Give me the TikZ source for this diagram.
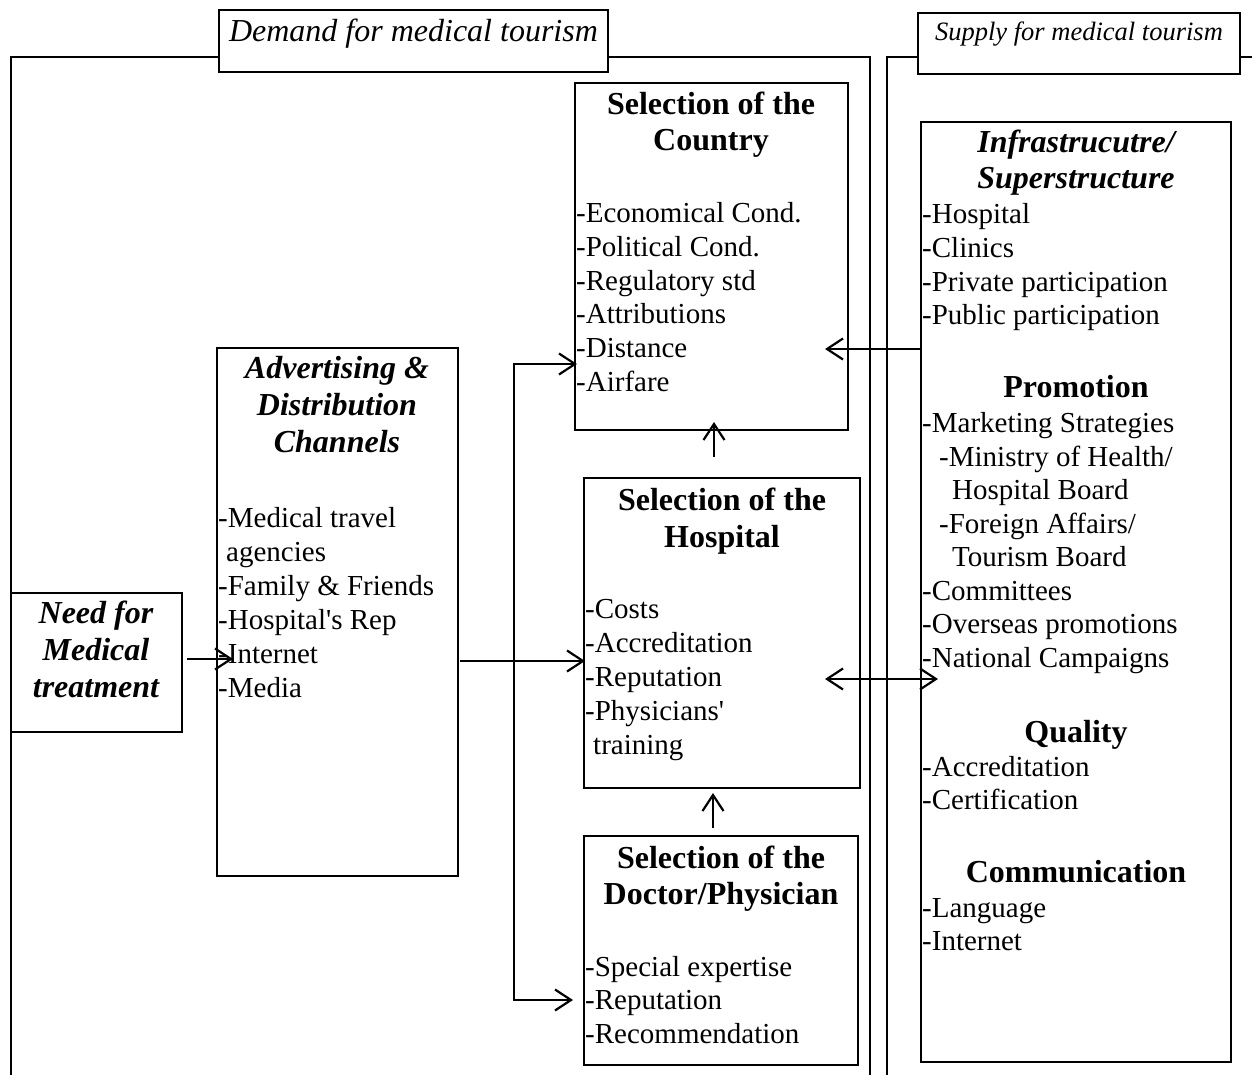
\documentclass[tikz,border=0pt]{standalone}
\usepackage{fontspec}
\setmainfont{Liberation Serif}
\usetikzlibrary{arrows.meta}

% stack of text lines, one named node per line
\newcommand\linestack[6]{%
  \foreach \t [count=\i] in {#6} {\node[#2] (#1\i) at (#3,{#4+(\i-1)*#5}) {\t};}}
% framed box given by its corners
\newcommand\boxat[5]{%
  \node[bx, minimum width={#4-#2}, minimum height={#5-#3}] (#1) at (#2,#3) {};}

\begin{document}
\begin{tikzpicture}[x=1pt,y=-1pt,
  bx/.style={draw, line width=2.4pt, inner sep=0, outer sep=0, anchor=north west},
  frame/.style={line width=2.4pt},
  body/.style={inner sep=0, anchor=base west, font=\fontsize{29}{34}\selectfont},
  head/.style={inner sep=0, anchor=base, font=\fontsize{32}{37}\selectfont\bfseries},
  headi/.style={inner sep=0, anchor=base, font=\fontsize{32}{37}\selectfont\bfseries\itshape},
  arr/.style={line width=2.2pt, -{Straight Barb[length=16pt,width=21pt,line width=2.2pt]}},
  darr/.style={line width=2.2pt, {Straight Barb[length=16pt,width=21pt,line width=2.2pt]}-{Straight Barb[length=16pt,width=21pt,line width=2.2pt]}}]
\useasboundingbox (0,0) rectangle (1252,1075);

% outer frames
\draw[frame] (11,1075) -- (11,57) -- (219,57);
\draw[frame] (608,57) -- (870,57) -- (870,1075);
\draw[frame] (887,1075) -- (887,57) -- (918,57);
\draw[frame] (1240,57) -- (1252,57);

% frame titles
\node[draw, line width=2.4pt, inner sep=0, outer sep=0, minimum width=389, minimum height=62,
      text height=16pt, text depth=14pt, font=\fontsize{32}{37}\selectfont\itshape, fill=white]
      (dlabel) at (413.5,41) {Demand for medical tourism};
\node[draw, line width=2.4pt, inner sep=0, outer sep=0, minimum width=322, minimum height=61,
      text height=11pt, text depth=16pt, font=\fontsize{26.5}{31}\selectfont\itshape, fill=white]
      (slabel) at (1079,43.5) {Supply for medical tourism};

% boxes
\boxat{need}{11}{593}{182}{732}
\boxat{adv}{217}{348}{458}{876}
\boxat{country}{575}{83}{848}{430}
\boxat{hosp}{584}{478}{860}{788}
\boxat{doc}{584}{836}{858}{1065}
\boxat{infra}{921}{122}{1231}{1062}

% need for medical treatment
\linestack{nd}{headi}{96}{623}{37}{Need for, Medical, treatment}

% advertising and distribution channels
\linestack{adh}{headi}{337}{378}{37}{Advertising \&, Distribution, Channels}
\node[body] (ad1) at (218,527) {-Medical travel};
\node[body] (ad2) at (226,561) {agencies};
\linestack{adl}{body}{218}{595}{34}{-Family \& Friends, -Hospital\textquotesingle s Rep, -Internet, -Media}

% selection of the country
\linestack{ch}{head}{711}{115}{36}{Selection of the, Country}
\linestack{cl}{body}{576}{223}{33.6}{-Economical Cond., -Political Cond., -Regulatory std, -Attributions, -Distance, -Airfare}

% selection of the hospital
\linestack{hh}{head}{722}{510}{37}{Selection of the, Hospital}
\linestack{hl}{body}{585}{618}{34}{-Costs, -Accreditation, -Reputation, -Physicians\textquotesingle}
\node[body] (hl5) at (593,754) {training};

% selection of the doctor
\linestack{dh}{head}{721}{868}{36}{Selection of the, Doctor/Physician}
\linestack{dl}{body}{585}{976}{33.7}{-Special expertise, -Reputation, -Recommendation}

% supply side
\linestack{ih}{headi}{1076}{153}{36}{Infrastrucutre/, Superstructure}
\linestack{il}{body}{922}{224}{33.5}{-Hospital, -Clinics, -Private participation, -Public participation}
\node[head] (ph) at (1076,397) {Promotion};
\node[body] (pl1) at (922,432) {-Marketing Strategies};
\node[body] (pl2) at (939,466) {-Ministry of Health/};
\node[body] (pl3) at (952,499) {Hospital Board};
\node[body] (pl4) at (939,533) {-Foreign Affairs/};
\node[body] (pl5) at (952,566) {Tourism Board};
\linestack{pm}{body}{922}{600}{33.8}{-Committees, -Overseas promotions, -National Campaigns}
\node[head] (qh) at (1076,742) {Quality};
\linestack{ql}{body}{922}{776}{33.5}{-Accreditation, -Certification}
\node[head] (mh) at (1076,882) {Communication};
\linestack{ml}{body}{922}{917}{33.5}{-Language, -Internet}

% connector end points
\coordinate (need-out) at (187,659);
\coordinate (adv-in) at (233,659);
\coordinate (adv-out) at (460,661);
\coordinate (hosp-in) at (585,661);
\coordinate (branch) at (514,661);
\coordinate (country-in) at (577,364);
\coordinate (doc-in) at (573,1000);
\coordinate (hosp-top) at (714,457);
\coordinate (country-bot) at (714,422);
\coordinate (doc-top) at (713,828);
\coordinate (hosp-bot) at (713,793);
\coordinate (infra-out) at (921,349);
\coordinate (country-right) at (825,349);
\coordinate (hosp-right) at (825,679);
\coordinate (infra-in) at (938,679);

% connectors
\draw[arr] (need-out) -- (adv-in);
\draw[arr] (adv-out) -- (hosp-in);
\draw[arr] (branch) |- (country-in);
\draw[arr] (branch) |- (doc-in);
\draw[arr] (hosp-top) -- (country-bot);
\draw[arr] (doc-top) -- (hosp-bot);
\draw[arr] (infra-out) -- (country-right);
\draw[darr] (hosp-right) -- (infra-in);
\end{tikzpicture}
\end{document}
